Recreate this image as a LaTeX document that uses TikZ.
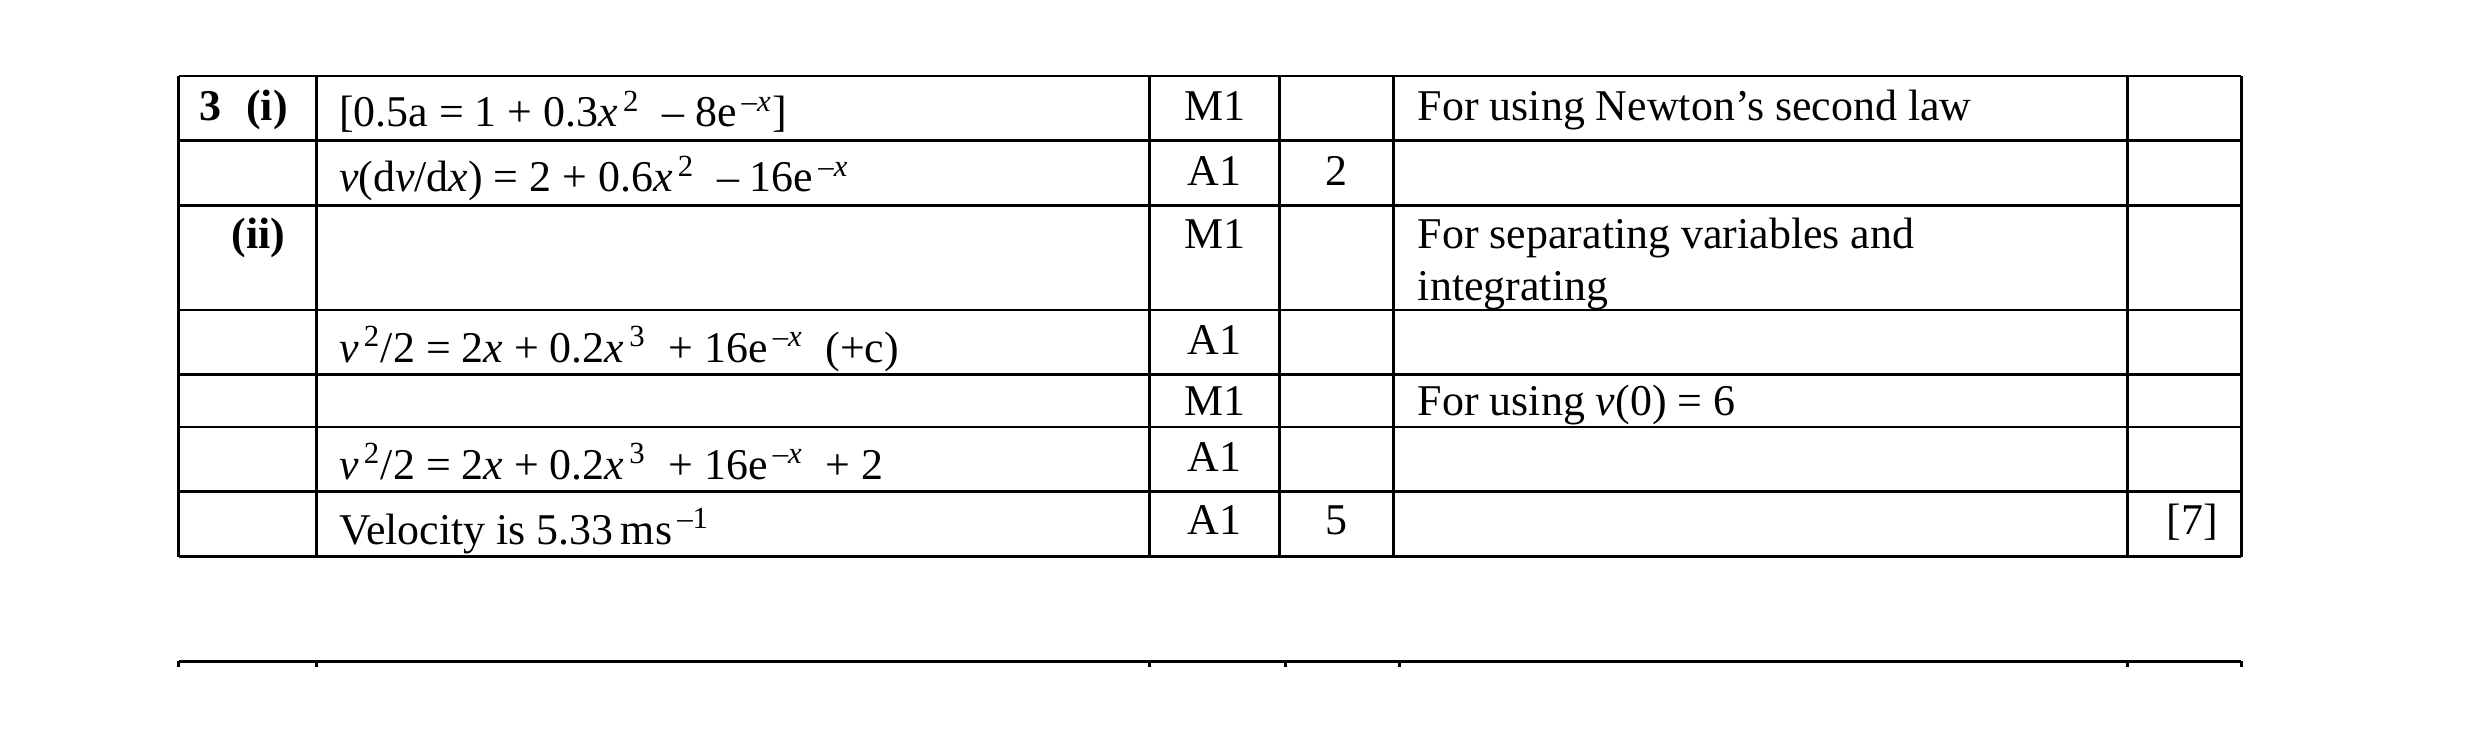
\documentclass[tikz,border=0pt]{standalone}
\usepackage{fontspec}
\setmainfont{Liberation Serif}
\newcommand{\myx}{\textit{x}}
\newcommand{\myv}{\textit{v}}
\newcommand{\sps}[1]{\textsuperscript{\,#1}}
\begin{document}
\begin{tikzpicture}[x=0.015816cm,y=-0.015816cm,
  g/.style={line width=0.8pt},
  t/.style={anchor=base west,inner sep=0pt,font=\fontsize{12.5}{14}\selectfont},
  c/.style={anchor=base,inner sep=0pt,font=\fontsize{12.5}{14}\selectfont}]
\useasboundingbox (0,0) rectangle (1568,470.4);
\foreach \y in {48,89,130,196,237,270,311,352} \draw[g] (113,\y) -- (1417,\y);
\foreach \x in {113,200,727,809,881,1345,1417} \draw[g] (\x,48) -- (\x,352);
\draw[g] (113,418) -- (1417,418);
\foreach \x in {113,200,727,813,885,1345,1417} \draw[g] (\x,418) -- (\x,422);
\node[t] (a1) at (126,76) {\textbf{3\;\;(i)}};
\node[t] (a2) at (146,157) {\textbf{(ii)}};
\node[t] (b1) at (214,80) {[0.5a = 1 + 0.3\myx\sps{2} \ -- 8e\sps{\textit{--x}}]};
\node[t] (b2) at (214,121) {\myv(d\myv/d\myx) = 2 + 0.6\myx\sps{2} \ -- 16e\sps{\textit{--x}}};
\node[t] (b4) at (214,229) {\myv\sps{2}/2 = 2\myx{} + 0.2\myx\sps{3} \ + 16e\sps{\textit{--x}} \ (+c)};
\node[t] (b6) at (214,303) {\myv\sps{2}/2 = 2\myx{} + 0.2\myx\sps{3} \ + 16e\sps{\textit{--x}} \ + 2};
\node[t] (b7) at (214,344) {Velocity is 5.33\,ms\sps{--1}};
\node[c] (m1) at (768,76) {M1};
\node[c] (m2) at (768,117) {A1};
\node[c] (m3) at (768,157) {M1};
\node[c] (m4) at (768,224) {A1};
\node[c] (m5) at (768,263) {M1};
\node[c] (m6) at (768,298) {A1};
\node[c] (m7) at (768,338) {A1};
\node[c] (n2) at (845,117) {2};
\node[c] (n7) at (845,338) {5};
\node[t] (d1) at (896,76) {For using Newton’s second law};
\node[t] (d3) at (896,157) {For separating variables and};
\node[t] (d3b) at (896,190) {integrating};
\node[t] (d5) at (896,263) {For using \myv(0) = 6};
\node[c] (e7) at (1386,338) {[7]};
\end{tikzpicture}
\end{document}
